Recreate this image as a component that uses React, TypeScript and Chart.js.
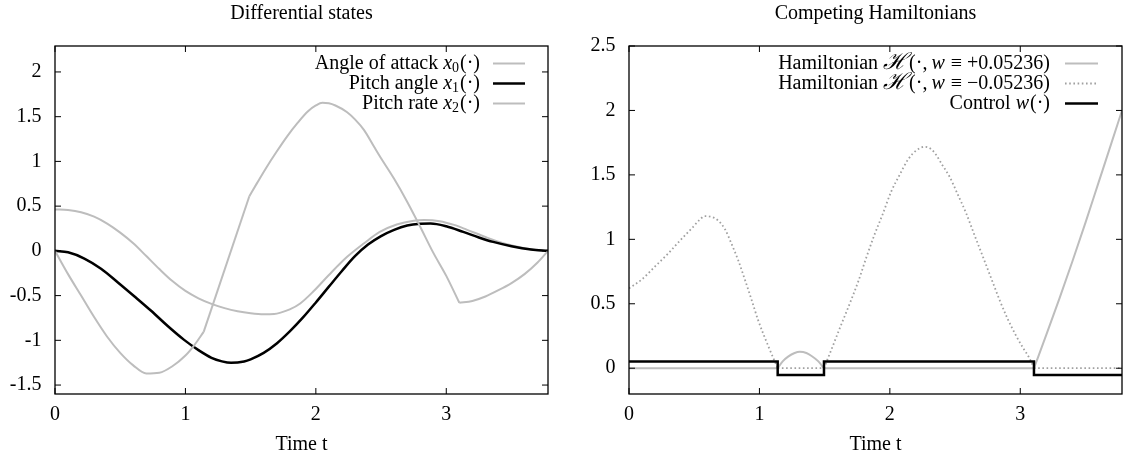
import React, { useEffect, useRef } from "react";
import { Chart, registerables } from "chart.js";

Chart.register(...registerables);

const FONT = "'Liberation Serif', 'DejaVu Serif', 'Times New Roman', serif";
const GRAY = "#bdbdbd";
const DOT_GRAY = "#a0a0a0";

const xAxisLabel = "Time t";
const leftTitle = "Differential states";
const rightTitle = "Competing Hamiltonians";

// ---------- Left panel: Differential states ----------
const angleT = [0, 0.1, 0.2, 0.3, 0.4, 0.5, 0.6, 0.7, 0.8, 0.9, 1.0, 1.1, 1.2, 1.3, 1.4, 1.5, 1.6, 1.68, 1.73, 1.8, 1.88, 1.98, 2.1, 2.24, 2.37, 2.49, 2.62, 2.75, 2.83, 2.95, 3.06, 3.16, 3.3, 3.45, 3.6, 3.7, 3.78];
const angleV = [0.463, 0.456, 0.431, 0.382, 0.305, 0.204, 0.085, -0.058, -0.203, -0.338, -0.448, -0.53, -0.592, -0.64, -0.675, -0.697, -0.708, -0.705, -0.69, -0.655, -0.588, -0.455, -0.27, -0.067, 0.085, 0.212, 0.295, 0.337, 0.345, 0.332, 0.29, 0.235, 0.155, 0.08, 0.03, 0.008, 0];

const pitchT = [0, 0.1, 0.225, 0.353, 0.48, 0.61, 0.737, 0.864, 0.99, 1.1, 1.2, 1.28, 1.35, 1.45, 1.5, 1.6, 1.7, 1.8, 1.9, 2.0, 2.1, 2.2, 2.3, 2.4, 2.5, 2.6, 2.7, 2.8, 2.88, 3.0, 3.13, 3.25, 3.36, 3.5, 3.65, 3.78];
const pitchV = [0, -0.016, -0.086, -0.2, -0.35, -0.51, -0.67, -0.84, -0.995, -1.11, -1.195, -1.235, -1.252, -1.236, -1.212, -1.14, -1.035, -0.9, -0.747, -0.577, -0.4, -0.225, -0.06, 0.07, 0.165, 0.235, 0.283, 0.303, 0.306, 0.275, 0.212, 0.15, 0.1, 0.052, 0.015, 0];

const rateT1 = [0, 0.1, 0.2, 0.3, 0.4, 0.5, 0.6, 0.7, 0.8, 0.9, 1.0, 1.07, 1.14];
const rateV1 = [0, -0.26, -0.5, -0.74, -0.96, -1.14, -1.28, -1.37, -1.362, -1.29, -1.17, -1.05, -0.905];
const rateT2 = [1.14, 1.49];
const rateV2 = [-0.905, 0.61];
const rateT3 = [1.49, 1.55, 1.62, 1.7, 1.78, 1.86, 1.94, 2.0, 2.05, 2.1, 2.15, 2.24, 2.3, 2.37, 2.45, 2.5, 2.6, 2.7, 2.8, 2.9, 3.0, 3.1];
const rateV3 = [0.61, 0.76, 0.93, 1.11, 1.28, 1.43, 1.56, 1.625, 1.655, 1.65, 1.625, 1.55, 1.47, 1.35, 1.155, 1.035, 0.805, 0.55, 0.27, -0.02, -0.28, -0.58];
const rateT4 = [3.1, 3.2, 3.3, 3.4, 3.5, 3.6, 3.7, 3.78];
const rateV4 = [-0.58, -0.56, -0.51, -0.44, -0.36, -0.26, -0.13, 0];

// ---------- Right panel: Competing Hamiltonians ----------
const hPlusT1 = [0, 1.14];
const hPlusV1 = [0, 0];
const hPlusT2 = [1.14, 1.18, 1.22, 1.27, 1.31, 1.36, 1.4, 1.45, 1.495];
const hPlusV2 = [0, 0.055, 0.09, 0.118, 0.127, 0.118, 0.095, 0.055, 0];
const hPlusT3 = [1.495, 3.105];
const hPlusV3 = [0, 0];
const hPlusT4 = [3.105, 3.2, 3.3, 3.4, 3.5, 3.6, 3.7, 3.78];
const hPlusV4 = [0, 0.26, 0.54, 0.83, 1.13, 1.44, 1.75, 2.0];

const hMinusT1 = [0, 0.1, 0.2, 0.3, 0.4, 0.48, 0.54, 0.58, 0.63, 0.68, 0.735, 0.785, 0.84, 0.89, 0.94, 0.99, 1.07, 1.14];
const hMinusV1 = [0.62, 0.69, 0.79, 0.89, 1.0, 1.084, 1.15, 1.18, 1.175, 1.149, 1.08, 0.968, 0.83, 0.683, 0.53, 0.373, 0.166, 0];
const hMinusT2 = [1.14, 1.495];
const hMinusV2 = [0, 0];
const hMinusT3 = [1.495, 1.55, 1.62, 1.692, 1.76, 1.82, 1.88, 1.947, 2.01, 2.075, 2.14, 2.203, 2.267, 2.31, 2.356, 2.4, 2.458, 2.52, 2.586, 2.65, 2.714, 2.78, 2.842, 2.9, 2.969, 3.02, 3.072, 3.105];
const hMinusV3 = [0, 0.14, 0.32, 0.5, 0.68, 0.86, 1.03, 1.2, 1.37, 1.5, 1.62, 1.69, 1.718, 1.705, 1.654, 1.58, 1.486, 1.35, 1.2, 1.03, 0.864, 0.69, 0.528, 0.39, 0.25, 0.16, 0.075, 0];
const hMinusT4 = [3.105, 3.78];
const hMinusV4 = [0, 0];

const controlT = [0, 1.14, 1.495, 3.105, 3.78];
const controlV = [0.05236, -0.05236, 0.05236, -0.05236, -0.05236];

const leftYRange = [-1.6, 2.29];
const rightYRange = [-0.2, 2.5];
const xMax = 3.78;

type Seg = { t: string; f?: "n" | "i" | "s" | "h"; dx?: number };
type LegendEntry = { segs: Seg[]; color: string; width: number; dash?: number[] };

const leftLegend: LegendEntry[] = [
  { segs: [{ t: "Angle of attack " }, { t: "x", f: "i" }, { t: "0", f: "s" }, { t: "(·)", dx: 1 }], color: GRAY, width: 2 },
  { segs: [{ t: "Pitch angle " }, { t: "x", f: "i" }, { t: "1", f: "s" }, { t: "(·)", dx: 1 }], color: "#000", width: 2.5 },
  { segs: [{ t: "Pitch rate " }, { t: "x", f: "i" }, { t: "2", f: "s" }, { t: "(·)", dx: 1 }], color: GRAY, width: 2 },
];

const rightLegend: LegendEntry[] = [
  {
    segs: [{ t: "Hamiltonian " }, { t: "ℋ", f: "h" }, { t: "(·,", dx: 2 }, { t: "w", f: "i", dx: 4 }, { t: "≡", dx: 6 }, { t: "+0.05236)", dx: 5 }],
    color: GRAY,
    width: 2,
  },
  {
    segs: [{ t: "Hamiltonian " }, { t: "ℋ", f: "h" }, { t: "(·,", dx: 2 }, { t: "w", f: "i", dx: 4 }, { t: "≡", dx: 6 }, { t: "−0.05236)", dx: 5 }],
    color: DOT_GRAY,
    width: 1.8,
    dash: [1.6, 2.6],
  },
  { segs: [{ t: "Control " }, { t: "w", f: "i" }, { t: "(·)", dx: 1 }], color: "#000", width: 2.5 },
];

function pts(t: number[], v: number[]) {
  return t.map((x, i) => ({ x, y: v[i] }));
}

function segFont(f?: string) {
  if (f === "i") return `italic 20px ${FONT}`;
  if (f === "s") return `14px ${FONT}`;
  if (f === "h") return `italic 23px 'DejaVu Serif', ${FONT}`;
  return `20px ${FONT}`;
}

function drawRich(ctx: CanvasRenderingContext2D, segs: Seg[], right: number, y: number) {
  let total = 0;
  const widths = segs.map((s) => {
    ctx.font = segFont(s.f);
    const w = ctx.measureText(s.t).width + (s.dx || 0);
    total += w;
    return w;
  });
  let x = right - total;
  segs.forEach((s, i) => {
    ctx.font = segFont(s.f);
    ctx.textAlign = "left";
    ctx.textBaseline = "middle";
    ctx.fillStyle = "#000";
    ctx.fillText(s.t, x + (s.dx || 0), s.f === "s" ? y + 5 : y);
    x += widths[i];
  });
}

const gnuPlugin = {
  id: "gnu",
  afterDraw(chart: any, _args: any, opts: any) {
    const ctx: CanvasRenderingContext2D = chart.ctx;
    const a = chart.chartArea;
    const xs = chart.scales.x;
    const ys = chart.scales.y;
    ctx.save();
    ctx.strokeStyle = "#000";
    ctx.lineWidth = 1.3;
    ctx.setLineDash([]);
    ctx.strokeRect(a.left, a.top, a.right - a.left, a.bottom - a.top);
    const L = 6;
    ctx.lineWidth = 1;
    ctx.beginPath();
    xs.ticks.forEach((tk: any) => {
      const px = xs.getPixelForValue(tk.value);
      ctx.moveTo(px, a.bottom);
      ctx.lineTo(px, a.bottom - L);
      ctx.moveTo(px, a.top);
      ctx.lineTo(px, a.top + L);
    });
    ys.ticks.forEach((tk: any) => {
      const py = ys.getPixelForValue(tk.value);
      ctx.moveTo(a.left, py);
      ctx.lineTo(a.left + L, py);
      ctx.moveTo(a.right, py);
      ctx.lineTo(a.right - L, py);
    });
    ctx.stroke();
    ctx.fillStyle = "#000";
    ctx.font = `20px ${FONT}`;
    ctx.textAlign = "center";
    ctx.textBaseline = "middle";
    ctx.fillText(opts.title, (a.left + a.right) / 2, 13.5);
    const entries: LegendEntry[] = opts.legend;
    entries.forEach((e, i) => {
      const y = 63.5 + i * 20;
      drawRich(ctx, e.segs, a.right - opts.textGap, y);
      ctx.beginPath();
      ctx.strokeStyle = e.color;
      ctx.lineWidth = e.width;
      ctx.setLineDash(e.dash || []);
      ctx.moveTo(a.right - opts.sampleStart, y);
      ctx.lineTo(a.right - opts.sampleEnd, y);
      ctx.stroke();
    });
    ctx.restore();
  },
};

function lineDs(data: any[], color: string, width: number, order: number, extra: any = {}) {
  return {
    data,
    borderColor: color,
    borderWidth: width,
    pointRadius: 0,
    fill: false,
    cubicInterpolationMode: "monotone",
    order,
    ...extra,
  };
}

function makeOptions(yRange: number[], yWidth: number, padRight: number, plugOpts: any) {
  return {
    animation: false,
    responsive: false,
    events: [],
    layout: { padding: { left: 0, right: padRight, top: 46, bottom: 0 } },
    plugins: {
      legend: { display: false },
      tooltip: { enabled: false },
      title: { display: false },
      gnu: plugOpts,
    },
    scales: {
      x: {
        type: "linear",
        min: 0,
        max: xMax,
        grid: { display: false, drawTicks: false },
        border: { display: false },
        ticks: {
          stepSize: 1,
          includeBounds: false,
          padding: 9,
          color: "#000",
          font: { family: FONT, size: 20 },
          maxRotation: 0,
          callback: (v: any) => String(v),
        },
        title: {
          display: true,
          text: xAxisLabel,
          color: "#000",
          font: { family: FONT, size: 20 },
          padding: { top: 0, bottom: 2 },
        },
        afterFit: (s: any) => {
          s.height = 65;
        },
      },
      y: {
        type: "linear",
        min: yRange[0],
        max: yRange[1],
        grid: { display: false, drawTicks: false },
        border: { display: false },
        ticks: {
          stepSize: 0.5,
          includeBounds: false,
          padding: 13.5,
          color: "#000",
          font: { family: FONT, size: 20 },
          callback: (v: any) => String(v),
        },
        afterFit: (s: any) => {
          s.width = yWidth;
        },
      },
    },
  };
}

export default function App() {
  const leftRef = useRef<HTMLCanvasElement>(null);
  const rightRef = useRef<HTMLCanvasElement>(null);

  useEffect(() => {
    const left = new Chart(leftRef.current as HTMLCanvasElement, {
      type: "line",
      data: {
        datasets: [
          lineDs(pts(angleT, angleV), GRAY, 2, 0),
          lineDs(pts(pitchT, pitchV), "#000", 2.5, -1),
          lineDs(pts(rateT1, rateV1), GRAY, 2, -2),
          lineDs(pts(rateT2, rateV2), GRAY, 2, -2),
          lineDs(pts(rateT3, rateV3), GRAY, 2, -2),
          lineDs(pts(rateT4, rateV4), GRAY, 2, -2),
        ] as any,
      },
      options: makeOptions(leftYRange, 55, 18, {
        title: leftTitle,
        legend: leftLegend,
        textGap: 68,
        sampleStart: 55,
        sampleEnd: 23,
      }) as any,
      plugins: [gnuPlugin as any],
    });

    const dotted = { borderDash: [1.6, 2.6] };
    const right = new Chart(rightRef.current as HTMLCanvasElement, {
      type: "line",
      data: {
        datasets: [
          lineDs(pts(hPlusT1, hPlusV1), GRAY, 2, 0),
          lineDs(pts(hPlusT2, hPlusV2), GRAY, 2, 0),
          lineDs(pts(hPlusT3, hPlusV3), GRAY, 2, 0),
          lineDs(pts(hPlusT4, hPlusV4), GRAY, 2, 0),
          lineDs(pts(hMinusT1, hMinusV1), DOT_GRAY, 1.8, -1, dotted),
          lineDs(pts(hMinusT2, hMinusV2), DOT_GRAY, 1.8, -1, dotted),
          lineDs(pts(hMinusT3, hMinusV3), DOT_GRAY, 1.8, -1, dotted),
          lineDs(pts(hMinusT4, hMinusV4), DOT_GRAY, 1.8, -1, dotted),
          lineDs(pts(controlT, controlV), "#000", 2.5, -2, { stepped: "before", cubicInterpolationMode: "default", tension: 0 }),
        ] as any,
      },
      options: makeOptions(rightYRange, 63, 9, {
        title: rightTitle,
        legend: rightLegend,
        textGap: 72,
        sampleStart: 57,
        sampleEnd: 24,
      }) as any,
      plugins: [gnuPlugin as any],
    });

    return () => {
      left.destroy();
      right.destroy();
    };
  }, []);

  return (
    <div style={{ position: "fixed", left: 0, top: 0, width: 1131, height: 459, background: "#fff", overflow: "hidden" }}>
      <canvas ref={leftRef} width={566} height={459} style={{ position: "absolute", left: 0, top: 0, width: 566, height: 459 }} />
      <canvas ref={rightRef} width={565} height={459} style={{ position: "absolute", left: 566, top: 0, width: 565, height: 459 }} />
    </div>
  );
}
